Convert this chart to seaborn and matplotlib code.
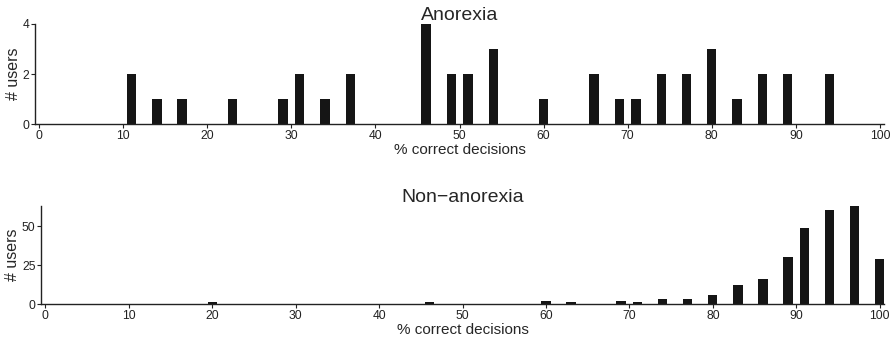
import matplotlib
matplotlib.use("Agg")
import matplotlib.pyplot as plt
import seaborn as sns
import pandas as pd

sns.set_style("ticks")
plt.rcParams['font.family'] = ['Liberation Sans', 'DejaVu Sans']

# Anorexia users: % correct decisions -> # users
ano_pct = [11, 14, 17, 23, 29, 31, 34, 37, 46, 49, 51, 54, 60, 66, 69, 71, 74, 77, 80, 83, 86, 89, 94]
ano_users = [2, 1, 1, 1, 1, 2, 1, 2, 4, 2, 2, 3, 1, 2, 1, 1, 2, 2, 3, 1, 2, 2, 2]

# Non-anorexia users
non_pct = [20, 46, 60, 63, 69, 71, 74, 77, 80, 83, 86, 89, 91, 94, 97, 100]
non_users = [1, 1, 2, 1, 2, 1, 3, 3, 6, 12, 16, 30, 49, 60, 63, 29]

bar_color = "#151515"

fig = plt.figure(figsize=(8.92, 3.42), dpi=100)
ax1 = fig.add_axes([0.0392, 0.637, 0.952, 0.293])
ax2 = fig.add_axes([0.046, 0.111, 0.945, 0.2875])


def draw(ax, pct, users, title, yticks, ymax):
    df = pd.DataFrame({'pct': pct, 'users': users})
    sns.barplot(data=df, x='pct', y='users', native_scale=True, width=0.55,
                color=bar_color, saturation=1, errorbar=None, linewidth=0, ax=ax)
    ax.set_xlim(-0.5, 100.5)
    ax.set_ylim(0, ymax)
    ax.set_xticks(range(0, 101, 10))
    ax.set_yticks(yticks)
    ax.tick_params(labelsize=8.7, length=3, width=0.8, pad=1, colors='#222222')
    ax.set_xlabel("% correct decisions", fontsize=11, labelpad=1)
    ax.set_ylabel("# users", fontsize=11.5, labelpad=1)
    ax.set_title(title, fontsize=14, pad=3)
    for s in ['top', 'right']:
        ax.spines[s].set_visible(False)
    for s in ['left', 'bottom']:
        ax.spines[s].set_linewidth(1.0)
        ax.spines[s].set_color('#222222')


draw(ax1, ano_pct, ano_users, "Anorexia", [0, 2, 4], 4)
draw(ax2, non_pct, non_users, "Non\u2212anorexia", [0, 25, 50], 63)

fig.savefig("out.png", dpi=100)
